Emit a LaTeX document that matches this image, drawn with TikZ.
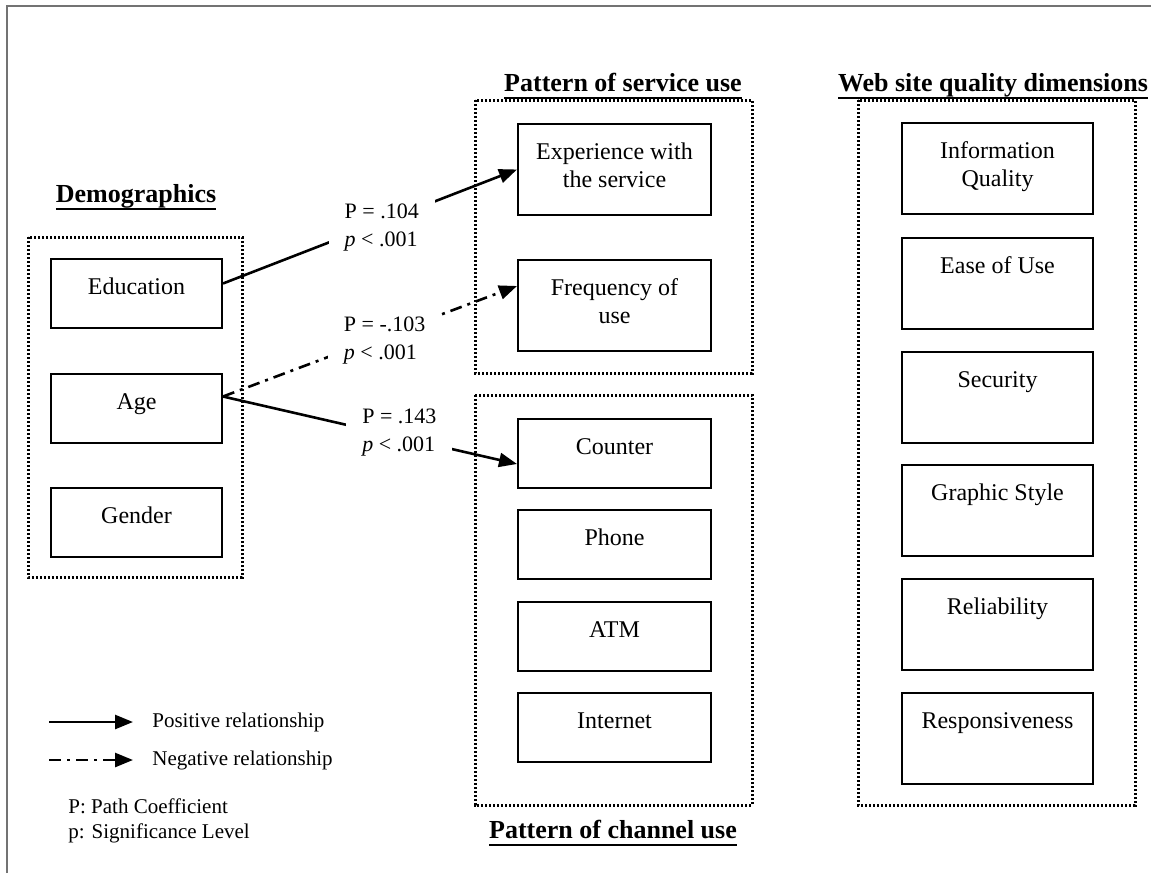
\documentclass[tikz,border=0pt]{standalone}
\usepackage{fontspec}
\setmainfont{Liberation Serif}
\usetikzlibrary{arrows.meta}

% underline for the group titles
\newcommand{\hdul}[1]{\setbox0\hbox{#1}\rlap{\vrule height -3pt depth 4pt width\wd0}\box0}

\tikzset{
  box/.style={draw, line width=1pt, inner sep=0pt, anchor=north west, align=center,
    font=\fontsize{12}{14}\selectfont, text height=17.5pt},
  demo/.style={box, text depth=17pt, minimum width=85.5pt},
  chan/.style={box, text depth=17pt, minimum width=96.5pt},
  svc/.style={box, text height=31.5pt, text depth=14pt, minimum width=96.5pt},
  web/.style={box, text depth=28pt, minimum width=95.5pt},
  webtwo/.style={web, text height=31.5pt, text depth=14pt},
  group/.style={draw, line width=1.5pt, dash pattern=on 1.2pt off 0.8pt},
  title/.style={anchor=base, inner sep=0pt, font=\fontsize{13}{15}\selectfont\bfseries},
  pos arrow/.style={line width=1.3pt, -{Triangle[length=9pt,width=7pt]}},
  neg arrow/.style={pos arrow, dash pattern=on 6pt off 3pt on 1.5pt off 3pt},
  plbl/.style={fill=white, inner xsep=8pt, inner ysep=2pt, align=left,
    font=\fontsize{11}{14}\selectfont},
  legend/.style={anchor=west, inner sep=0pt, font=\fontsize{10.5}{13}\selectfont},
  frame/.style={draw=black!55, line width=1.2pt}
}

\begin{document}
\begin{tikzpicture}[x=0.5pt, y=-0.5pt]
    \useasboundingbox (0,0) rectangle (1151,873);
    \draw[frame] (7,873) -- (7,6) -- (1151,6);

    %% Demographics
    \node[title] (demot) at (136,202) {\hdul{Demographics}};
    \draw[group] (28,237) rectangle (242,577);
    \node[demo] (edu) at (50,258) {Education};
    \node[demo] (age) at (50,373) {Age};
    \node[demo] (gender) at (50,487) {Gender};

    %% Pattern of service use
    \node[title] (svct) at (623,91) {\hdul{Pattern of service use}};
    \draw[group] (475,100) rectangle (752,373);
    \node[svc] (exp) at (517,123) {Experience with\\the service};
    \node[svc] (freq) at (517,259) {Frequency of\\use};

    %% Pattern of channel use
    \draw[group] (475,395) rectangle (752,805);
    \node[chan] (counter) at (517,418) {Counter};
    \node[chan] (phone) at (517,509) {Phone};
    \node[chan] (atm) at (517,601) {ATM};
    \node[chan] (internet) at (517,692) {Internet};
    \node[title] (chant) at (613,838) {\hdul{Pattern of channel use}};

    %% Web site quality dimensions
    \node[title] (webt) at (993,91) {\hdul{Web site quality dimensions}};
    \draw[group] (858,100) rectangle (1135,805);
    \node[webtwo] (info) at (901,122) {Information\\Quality};
    \node[web] (ease) at (901,237) {Ease of Use};
    \node[web] (sec) at (901,351) {Security};
    \node[web] (graph) at (901,464) {Graphic Style};
    \node[web] (rel) at (901,578) {Reliability};
    \node[web] (resp) at (901,692) {Responsiveness};

    %% Paths
    \draw[pos arrow] ([yshift=5pt]edu.east) -- (exp.west)
        node[plbl, pos=.54, yshift=-3pt] {P = .104\\\textit{p} < .001};
    \draw[neg arrow] ([yshift=6pt]age.east) -- ([yshift=9.75pt]freq.west)
        node[plbl, pos=.55, yshift=-2.5pt] {P = -.103\\\textit{p} < .001};
    \draw[pos arrow] ([yshift=6pt]age.east) -- ([yshift=-5.25pt]counter.west)
        node[plbl, pos=.6, yshift=2pt] {P = .143\\\textit{p} < .001};

    %% Legend
    \coordinate (lgpos) at (49,722);
    \coordinate (lgneg) at (49,760);
    \node[legend] (poslbl) at (152,722) {Positive relationship};
    \node[legend] (neglbl) at (152,760) {Negative relationship};
    \draw[pos arrow, shorten >=9.5pt] (lgpos) -- (poslbl.west);
    \draw[neg arrow, shorten >=9.5pt] (lgneg) -- (neglbl.west);
    \node[legend] (pathlbl) at (68,806) {P: Path Coefficient};
    \node[legend] (siglbl) at (68,833) {p: Significance Level};
\end{tikzpicture}
\end{document}
